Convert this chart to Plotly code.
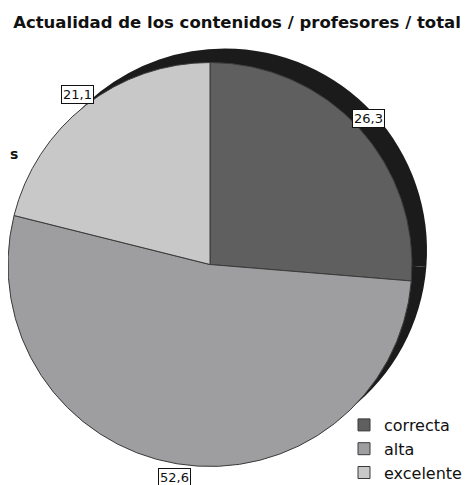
import math
import plotly.graph_objects as go

# ---- data ----
categories = ["correcta", "alta", "excelente"]
values = [26.3, 52.6, 21.1]
value_labels = ["26,3", "52,6", "21,1"]
title_text = "Actualidad de los contenidos / profesores / total"

# ---- styles ----
colors = ["#5f5f5f", "#9e9ea0", "#c8c8c8"]
shadow_color = "#1b1b1b"
W, H = 471, 485
OFF = 8                            # page body margin offset (px)
r = 202
cx = max(r, 208 - OFF)             # pie centre in figure px (domain must stay >= 0)
cy = 264.5 - OFF
sdx, sdy = 15, 14                  # shadow offset (right, up)
label_r = 216
FONT = "DejaVu Sans, Liberation Sans, Arial, sans-serif"

def dom(cxp, cyp, rad):
    return dict(x=[max(0, (cxp - rad) / W), min(1, (cxp + rad) / W)],
                y=[max(0, (H - cyp - rad) / H), min(1, (H - cyp + rad) / H)])

fig = go.Figure()
# shadow pie
fig.add_trace(go.Pie(
    labels=categories, values=values, sort=False, direction="clockwise", rotation=0,
    marker=dict(colors=[shadow_color] * len(values), line=dict(width=0)),
    textinfo="none", hoverinfo="skip", showlegend=False,
    domain=dom(cx + sdx, cy - sdy, r),
))
# main pie
fig.add_trace(go.Pie(
    labels=categories, values=values, sort=False, direction="clockwise", rotation=0,
    marker=dict(colors=colors, line=dict(color="#3a3a3a", width=1)),
    textinfo="none", showlegend=True,
    domain=dom(cx, cy, r),
))

# boxed value labels at mid-angle of each slice
total = sum(values)
cum = 0.0
annotations = []
for v, lab in zip(values, value_labels):
    mid = (cum + v / 2) / total * 2 * math.pi
    cum += v
    px = cx + label_r * math.sin(mid)
    py = cy - label_r * math.cos(mid)
    annotations.append(dict(
        x=px / W, y=1 - py / H, xref="paper", yref="paper",
        text=lab, showarrow=False, xanchor="center", yanchor="middle",
        font=dict(family=FONT, size=13, color="#111"),
        bgcolor="white", bordercolor="#111", borderwidth=1, borderpad=1,
    ))
# stray cropped text fragment at left edge
annotations.append(dict(
    x=0, y=1 - (154 - OFF) / H, xref="paper", yref="paper", text="<b>s</b>", showarrow=False,
    xanchor="left", yanchor="middle",
    font=dict(family=FONT, size=14, color="#111"),
))

fig.update_layout(
    width=W, height=H,
    margin=dict(l=0, r=0, t=0, b=0),
    paper_bgcolor="white", plot_bgcolor="white",
    title=dict(text="<b>" + title_text + "</b>", x=(237 - OFF) / W, xanchor="center",
               y=1 - (22 - OFF) / H, yanchor="middle",
               font=dict(family=FONT, size=16.5, color="#111")),
    legend=dict(x=(344 - OFF) / W, y=1 - (408 - OFF) / H, xanchor="left", yanchor="top",
                font=dict(family=FONT, size=16, color="#111"),
                bgcolor="rgba(0,0,0,0)", tracegroupgap=0),
    annotations=annotations,
)

fig.write_html("out.html")
